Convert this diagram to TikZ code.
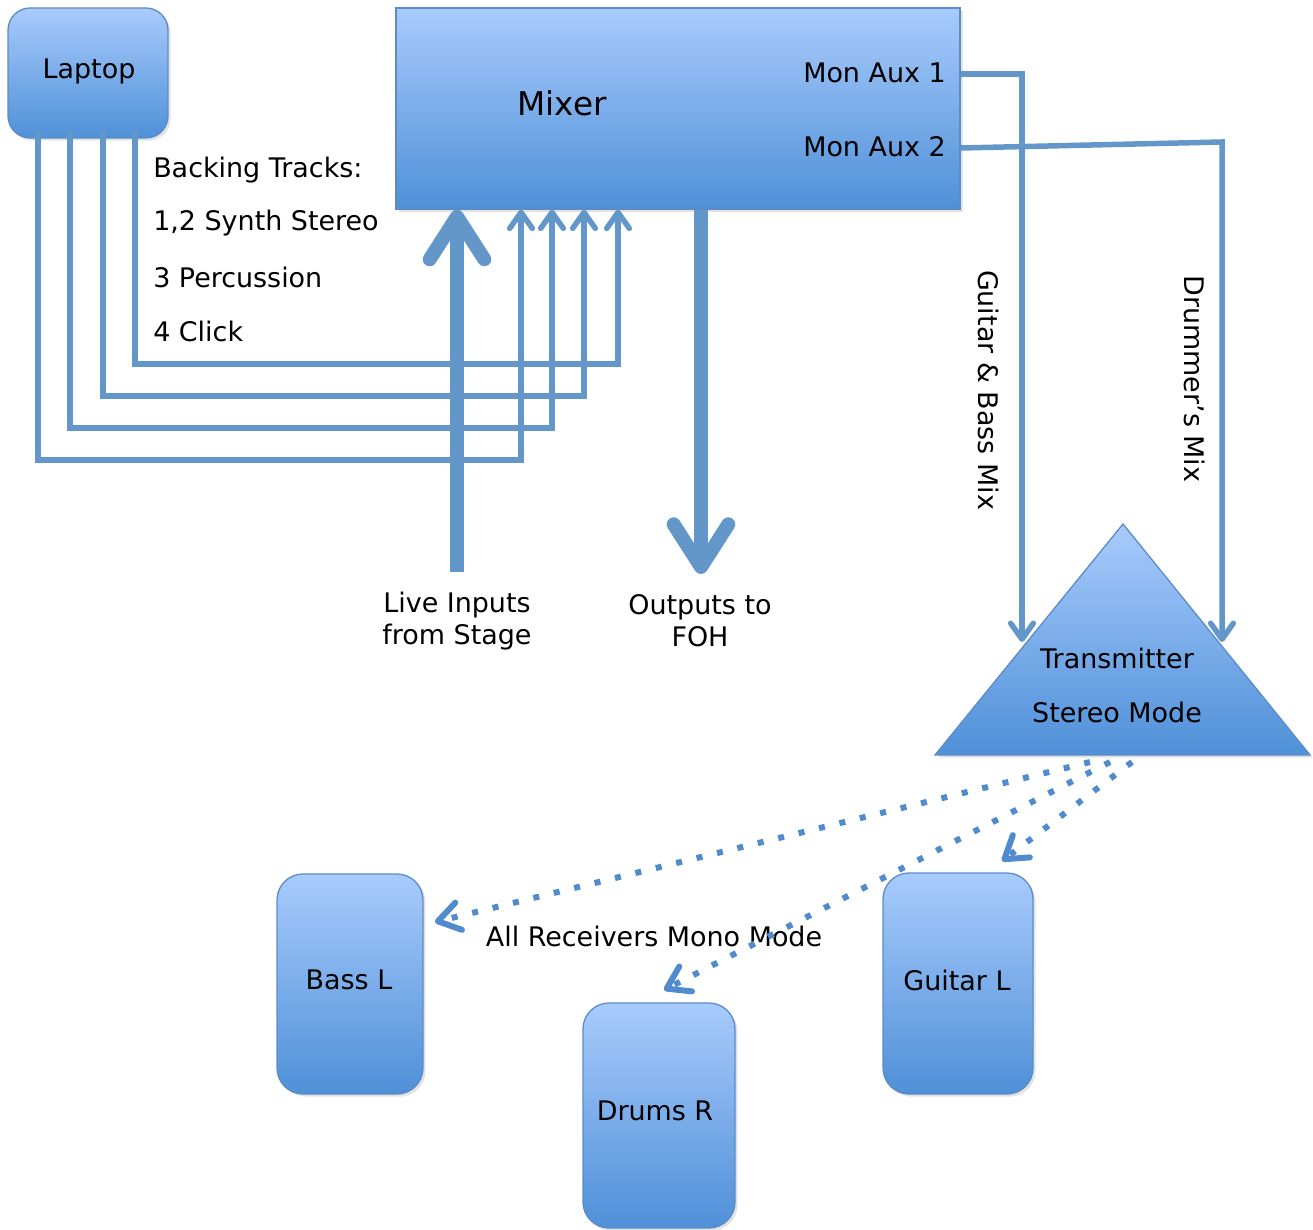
\documentclass[tikz,border=0pt]{standalone}
\usepackage{fontspec}
\setmainfont{DejaVu Sans}
\usetikzlibrary{arrows.meta,shadows}
\definecolor{lineblue}{RGB}{99,150,201}
\definecolor{dotblue}{RGB}{80,140,205}
\definecolor{boxtop}{RGB}{168,203,252}
\definecolor{boxbot}{RGB}{79,144,216}
\definecolor{boxedge}{RGB}{92,140,198}
\newlength\px \setlength\px{0.75pt}
\begin{document}
\begin{tikzpicture}[x=0.75pt,y=-0.75pt,
  box/.style={draw=boxedge, line width=1.3\px, top color=boxtop, bottom color=boxbot,
    inner sep=0pt, drop shadow={opacity=0.22, shadow xshift=2pt, shadow yshift=-2pt}},
  rbox/.style={box, rounded corners=22\px},
  lbl/.style={font=\fontsize{20.2}{24}\selectfont, inner sep=0pt},
  wire/.style={draw=lineblue, line width=5.5\px},
  thinarrow/.style={wire, -{Straight Barb[length=12pt, width=17pt, round]}},
  bigarrow/.style={draw=lineblue, line width=14\px, -{Straight Barb[length=32pt, width=41pt, round]}},
  dotarrow/.style={draw=dotblue, line width=6\px, dash pattern=on 6\px off 15\px,
    -{Straight Barb[length=16pt, width=21pt, round]}},
]
\useasboundingbox (0,0) rectangle (1313,1230);

% boxes
\node[rbox, minimum width=160\px, minimum height=130\px] (laptop) at (88,73) {};
\node[lbl] (laptoptxt) at (89,71) {Laptop};
\node[box, minimum width=564\px, minimum height=201\px] (mixer) at (678,108.5) {};
\node[lbl, font=\fontsize{24.5}{28}\selectfont] (mixertxt) at (562,103) {Mixer};
\node[lbl, anchor=east] (aux1) at (946,73) {Mon Aux 1};
\node[lbl, anchor=east] (aux2) at (946,147) {Mon Aux 2};

% backing tracks text
\node[lbl, anchor=west] (bt0) at (153,170) {Backing Tracks:};
\node[lbl, anchor=west] (bt1) at (153,223) {1,2 Synth Stereo};
\node[lbl, anchor=west] (bt2) at (153,277) {3 Percussion};
\node[lbl, anchor=west] (bt3) at (153,331) {4 Click};

% laptop wires
\draw[thinarrow] ([yshift=8\px]laptop.south -| 38,0) |- (521,460) -- (mixer.south -| 521,0);
\draw[thinarrow] ([yshift=8\px]laptop.south -| 70,0) |- (552,428) -- (mixer.south -| 552,0);
\draw[thinarrow] ([yshift=8\px]laptop.south -| 103,0) |- (584,396) -- (mixer.south -| 584,0);
\draw[thinarrow] ([yshift=8\px]laptop.south -| 135,0) |- (618,364) -- (mixer.south -| 618,0);

% live inputs and outputs
\node[lbl, align=center] (live) at (457,621) {Live Inputs\\from Stage};
\node[lbl, align=center] (foh) at (700,621) {Outputs to\\FOH};
\coordinate (livetop) at (457,572);
\coordinate (fohtop) at (701,574);
\draw[bigarrow] (livetop) -- (mixer.south -| livetop);
\draw[bigarrow] (mixer.south -| fohtop) -- (fohtop);

% transmitter
\coordinate (apex) at (1123,524);
\coordinate (tl) at (935,755);
\coordinate (tr) at (1310,755);
\shade[top color=boxtop, bottom color=boxbot, draw=boxedge, line width=1.3\px,
  drop shadow={opacity=0.22, shadow xshift=2pt, shadow yshift=-2pt}] (apex) -- (tr) -- (tl) -- cycle;
\node[lbl] (tx1) at (1117,658) {Transmitter};
\node[lbl] (tx2) at (1117,712) {Stereo Mode};

% monitor sends
\coordinate (in1) at (1022,642);
\coordinate (in2) at (1222,642);
\draw[thinarrow] (mixer.east |- 0,74) -| (in1);
\draw[thinarrow] (mixer.east |- 0,148) -- (1222,142) -- (in2);
\node[lbl, rotate=-90] (gbmix) at (989,390) {Guitar \& Bass Mix};
\node[lbl, rotate=-90] (drmix) at (1195,379) {Drummer’s Mix};

% receivers
\node[rbox, minimum width=146\px, minimum height=220\px, rounded corners=26\px] (bass) at (350,984) {};
\node[lbl] (basstxt) at (349,980) {Bass L};
\node[rbox, minimum width=152\px, minimum height=225\px, rounded corners=26\px] (drums) at (659,1115.5) {};
\node[lbl] (drumstxt) at (655,1111) {Drums R};
\node[rbox, minimum width=150\px, minimum height=221\px, rounded corners=26\px] (guitar) at (958,983.5) {};
\node[lbl] (guitartxt) at (957,980) {Guitar L};

\node[lbl] (mono) at (654,936) {All Receivers Mono Mode};

% wireless links
\coordinate (s1) at (1090,762);
\coordinate (s2) at (1110,762);
\coordinate (s3) at (1132,762);
\coordinate (e1) at (435,922);
\coordinate (e2) at (664,990);
\coordinate (e3) at (1002,861);
\draw[dotarrow] (s1) -- (e1);
\draw[dotarrow] (s2) -- (e2);
\draw[dotarrow] (s3) -- (e3);
\end{tikzpicture}
\end{document}
